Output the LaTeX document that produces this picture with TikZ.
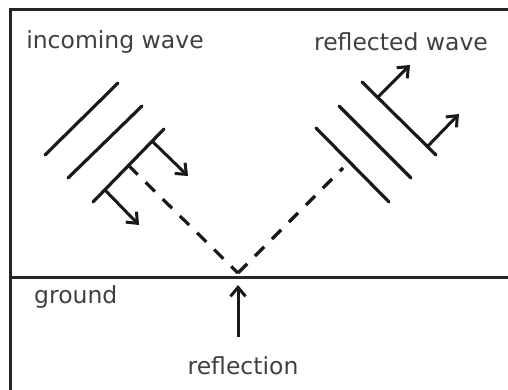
\documentclass[tikz,border=0pt]{standalone}
\usepackage{fontspec}
\setmainfont{DejaVu Sans}
\usetikzlibrary{arrows.meta}
\begin{document}
\begin{tikzpicture}[x=1pt,y=-1pt,
  frameline/.style={line width=3pt,draw=black!85},
  wave/.style={line width=3.2pt,line cap=round,draw=black!90},
  ray/.style={line width=3.2pt,draw=black!90,dash pattern=on 13pt off 11pt},
  dirarrow/.style={line width=3pt,draw=black!90,-{Straight Barb[length=9pt,width=15pt,line width=3pt]}},
  lbl/.style={font=\fontsize{23.5}{26}\selectfont,text=black!75,inner sep=0pt}]
\useasboundingbox (0,0) rectangle (508,390);
% frame
\coordinate (tl) at (10,10);
\coordinate (tr) at (508,10);
\coordinate (bl) at (10,390);
\coordinate (gl) at (10,277);
\coordinate (gr) at (508,277);
\draw[frameline] (bl) -- (tl) -- (tr);
\draw[frameline] (gl) -- (gr);
% labels
\node[lbl] (inc) at (115,42) {incoming wave};
\node[lbl] (refl) at (401,42) {reflected wave};
\node[lbl,anchor=west] (gnd) at (34,297) {ground};
\node[lbl] (rpt) at (243,366) {reflection};
% reflection point
\coordinate (R) at (238,273);
\coordinate (Rarr) at (238,337);
\coordinate (Rtip) at (238,285);
\draw[dirarrow] (Rarr) -- (Rtip);
% incoming wavefronts
\coordinate (i1a) at (45,155);  \coordinate (i1b) at (118,83);
\coordinate (i2a) at (68,178);  \coordinate (i2b) at (142,106);
\coordinate (i3a) at (93,202);  \coordinate (i3b) at (164,129);
\draw[wave] (i1a) -- (i1b);
\draw[wave] (i2a) -- (i2b);
\draw[wave] (i3a) -- (i3b);
\coordinate (ia1) at (153,142); \coordinate (ia1t) at (188,176);
\coordinate (ia2) at (105,190); \coordinate (ia2t) at (139,225);
\draw[dirarrow] (ia1) -- (ia1t);
\draw[dirarrow] (ia2) -- (ia2t);
\coordinate (im) at (128.5,165.5);
\draw[ray] (im) -- (R);
% reflected wavefronts
\coordinate (r1a) at (362,82);  \coordinate (r1b) at (436,155);
\coordinate (r2a) at (339,106); \coordinate (r2b) at (411,178);
\coordinate (r3a) at (316,128); \coordinate (r3b) at (389,202);
\draw[wave] (r1a) -- (r1b);
\draw[wave] (r2a) -- (r2b);
\draw[wave] (r3a) -- (r3b);
\coordinate (ra1) at (377,98);  \coordinate (ra1t) at (410,65);
\coordinate (ra2) at (427,147); \coordinate (ra2t) at (459,114);
\draw[dirarrow] (ra1) -- (ra1t);
\draw[dirarrow] (ra2) -- (ra2t);
\coordinate (rm) at (343,168);
\draw[ray] (R) -- (rm);
\end{tikzpicture}
\end{document}
